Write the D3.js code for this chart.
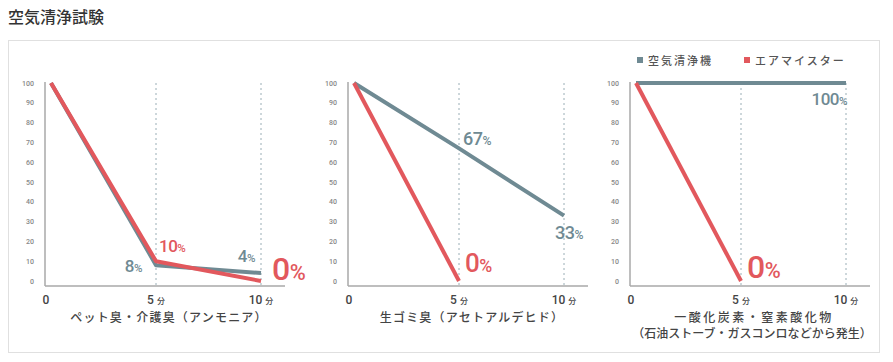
<!DOCTYPE html>
<html>
<head>
<meta charset="utf-8">
<script src="https://cdn.jsdelivr.net/npm/d3@7"></script>
<style>
  body { margin: 0; background: #fff; }
  text { font-family: "Noto Sans CJK JP", "Noto Sans", sans-serif; }
  .num { font-family: Roboto, "Noto Sans", sans-serif; font-weight: 500; }
</style>
</head>
<body>
<div id="chart"></div>
<script>
// Data
const times = [0, 5, 10];
const timeLabels = ["0", "5", "10"];
const yTicks = [0, 10, 20, 30, 40, 50, 60, 70, 80, 90, 100];
const series = ["空気清浄機", "エアマイスター"];
const categories = ["ペット臭・介護臭（アンモニア）", "生ゴミ臭（アセトアルデヒド）", "一酸化炭素・窒素酸化物"];
const subCategories = ["", "", "（石油ストーブ・ガスコンロなどから発生）"];
const purifierValues = [[100, 8, 4], [100, 67, 33], [100, 100, 100]];
const airmeisterValues = [[100, 10, 0], [100, 0, null], [100, 0, null]];

const colors = ["#6f8a93", "#e2585d"];

// Which points get a value label, and where the label sits
const valueLabels = [
  { panel: 0, s: 0, i: 1, dx: -14, dy: 7, anchor: "end", size: 17 },
  { panel: 0, s: 1, i: 1, dx: 3, dy: -9, anchor: "start", size: 17 },
  { panel: 0, s: 0, i: 2, dx: -6, dy: -11, anchor: "end", size: 17 },
  { panel: 0, s: 1, i: 2, dx: 11, dy: -1, anchor: "start", size: 32 },
  { panel: 1, s: 0, i: 1, dx: 4, dy: -3, anchor: "start", size: 18 },
  { panel: 1, s: 0, i: 2, dx: -9, dy: 23, anchor: "start", size: 18 },
  { panel: 1, s: 1, i: 1, dx: 6, dy: -9, anchor: "start", size: 26 },
  { panel: 2, s: 0, i: 2, dx: 1, dy: 22, anchor: "end", size: 17 },
  { panel: 2, s: 1, i: 1, dx: 6, dy: -3, anchor: "start", size: 32 }
];

const width = 893;
const height = 362;
const axisX = [45, 348, 630];
const axisBottom = 286;

const svg = d3
  .select("#chart")
  .append("svg")
  .attr("width", width)
  .attr("height", height);

// Title
svg
  .append("text")
  .attr("x", 8)
  .attr("y", 23)
  .attr("font-size", 16)
  .attr("font-weight", 500)
  .attr("fill", "#333")
  .text("空気清浄試験");

// Panel frame
svg
  .append("rect")
  .attr("x", 8.5)
  .attr("y", 40.5)
  .attr("width", 871)
  .attr("height", 312)
  .attr("fill", "none")
  .attr("stroke", "#e0e0e0");

const y = d3.scaleLinear().domain([0, 100]).range([281, 83]);

categories.forEach((cat, p) => {
  const ax = axisX[p];
  const x = d3.scaleLinear().domain([0, 10]).range([ax + 6, ax + 216]);
  const g = svg.append("g");

  // Dashed guides at 5 and 10 minutes
  g.selectAll("line.guide")
    .data(times.slice(1))
    .enter()
    .append("line")
    .attr("x1", (d) => x(d))
    .attr("x2", (d) => x(d))
    .attr("y1", 83)
    .attr("y2", axisBottom)
    .attr("stroke", "#9aaeb6")
    .attr("stroke-width", 1)
    .attr("stroke-dasharray", "2,3");

  // Axis lines
  g.append("line")
    .attr("x1", ax).attr("x2", ax)
    .attr("y1", 82).attr("y2", axisBottom)
    .attr("stroke", "#a8a8a8").attr("stroke-width", 1.5);
  g.append("line")
    .attr("x1", ax).attr("x2", ax + 240)
    .attr("y1", axisBottom).attr("y2", axisBottom)
    .attr("stroke", "#a8a8a8").attr("stroke-width", 1.5);

  // Y tick labels
  g.selectAll("text.ytick")
    .data(yTicks)
    .enter()
    .append("text")
    .attr("class", "num")
    .attr("x", ax - 11)
    .attr("y", (d) => y(d) + 2.5)
    .attr("text-anchor", "end")
    .attr("font-size", 7)
    .attr("font-weight", 400)
    .attr("fill", "#888")
    .text((d) => d);

  // X tick labels
  times.forEach((t, i) => {
    const tx = g.append("text")
      .attr("class", "num")
      .attr("x", i === 0 ? ax + 1 : x(t))
      .attr("y", 304)
      .attr("text-anchor", "middle")
      .attr("font-size", 12)
      .attr("font-weight", 400)
      .attr("fill", "#444");
    tx.append("tspan").text(timeLabels[i]);
    if (i > 0) {
      tx.append("tspan")
        .attr("font-size", 8)
        .attr("dx", 3)
        .attr("font-family", "Noto Sans CJK JP")
        .text("分");
    }
  });

  // Lines
  const line = d3
    .line()
    .defined((d) => d != null)
    .x((d, i) => x(times[i]))
    .y((d) => y(d));
  [purifierValues[p], airmeisterValues[p]].forEach((vals, s) => {
    g.append("path")
      .datum(vals)
      .attr("fill", "none")
      .attr("stroke", colors[s])
      .attr("stroke-width", 4)
      .attr("stroke-linejoin", "round")
      .attr("d", line);
  });

  // Category label(s)
  g.append("text")
    .attr("x", ax + 124)
    .attr("y", 322)
    .attr("text-anchor", "middle")
    .attr("font-size", 12)
    .attr("font-weight", 500)
    .attr("letter-spacing", p === 2 ? 2.5 : 1.2)
    .attr("fill", "#444")
    .text(cat);
  if (subCategories[p]) {
    g.append("text")
      .attr("x", ax + 122)
      .attr("y", 338)
      .attr("text-anchor", "middle")
      .attr("font-size", 12)
      .attr("font-weight", 500)
      .attr("letter-spacing", 0)
      .attr("fill", "#444")
      .text(subCategories[p]);
  }

  // Value labels
  valueLabels
    .filter((l) => l.panel === p)
    .forEach((l) => {
      const v = (l.s === 0 ? purifierValues : airmeisterValues)[p][l.i];
      const t = g.append("text")
        .attr("class", "num")
        .attr("x", x(times[l.i]) + l.dx)
        .attr("y", y(v) + l.dy)
        .attr("text-anchor", l.anchor)
        .attr("font-size", l.size)
        .attr("letter-spacing", -0.5)
        .attr("fill", colors[l.s]);
      t.append("tspan").text(v);
      t.append("tspan").attr("font-size", l.size * 0.68).text("%");
    });
});

// Legend
const legend = svg.append("g").attr("transform", "translate(637, 57)");
const legendX = [0, 107];
series.forEach((name, s) => {
  legend.append("rect")
    .attr("x", legendX[s]).attr("y", 0)
    .attr("width", 6).attr("height", 6)
    .attr("fill", colors[s]);
  legend.append("text")
    .attr("x", legendX[s] + 11)
    .attr("y", 7.5)
    .attr("font-size", 11)
    .attr("font-weight", 500)
    .attr("letter-spacing", 2)
    .attr("fill", "#555")
    .text(name);
});
</script>
</body>
</html>
